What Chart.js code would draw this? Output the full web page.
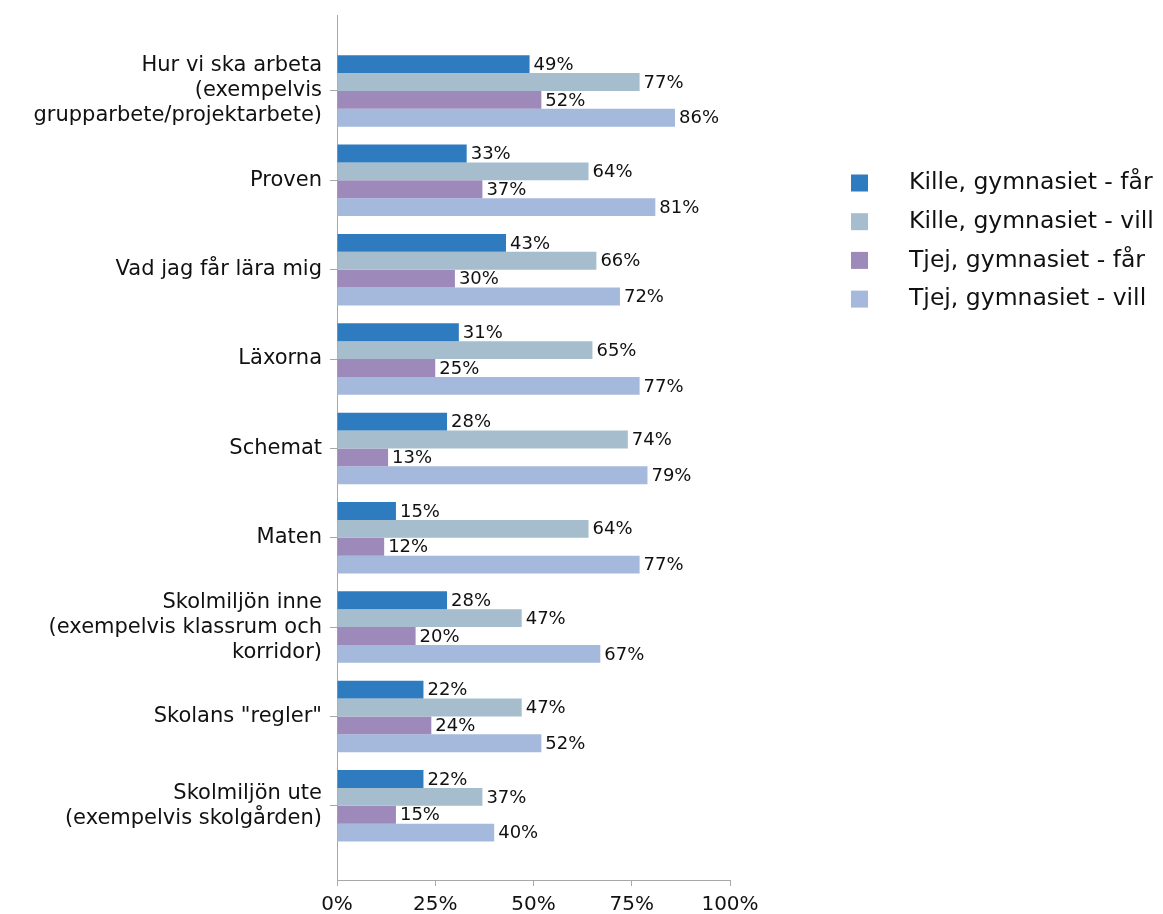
<!DOCTYPE html>
<html>
<head>
<meta charset="utf-8">
<script src="https://cdn.jsdelivr.net/npm/chart.js@4.4.1/dist/chart.umd.min.js"></script>
<style>
  html, body { margin: 0; padding: 0; background: #fff; }
  #wrap { width: 1163px; height: 914px; }
</style>
</head>
<body>
<div id="wrap"><canvas id="myChart"></canvas></div>
<script>
// data
const categories = [
  ['Hur vi ska arbeta', '(exempelvis', 'grupparbete/projektarbete)'],
  'Proven',
  'Vad jag får lära mig',
  'Läxorna',
  'Schemat',
  'Maten',
  ['Skolmiljön inne', '(exempelvis klassrum och', 'korridor)'],
  'Skolans "regler"',
  ['Skolmiljön ute', '(exempelvis skolgården)']
];
const seriesNames = ['Kille, gymnasiet - får', 'Kille, gymnasiet - vill', 'Tjej, gymnasiet - får', 'Tjej, gymnasiet - vill'];
const killeFar  = [49, 33, 43, 31, 28, 15, 28, 22, 22];
const killeVill = [77, 64, 66, 65, 74, 64, 47, 47, 37];
const tjejFar   = [52, 37, 30, 25, 13, 12, 20, 24, 15];
const tjejVill  = [86, 81, 72, 77, 79, 77, 67, 52, 40];
const xTicks = [0, 25, 50, 75, 100];

const colors = ['#2f7bc0', '#a5bdcd', '#9d89ba', '#a5b9dc'];
const FONT = '"DejaVu Sans", sans-serif';
const axisGrey = '#a8a8a8';

const series = [killeFar, killeVill, tjejFar, tjejVill];

// procent efter varje stapel
const valueLabels = {
  id: 'valueLabels',
  afterDatasetsDraw(chart) {
    const ctx = chart.ctx;
    ctx.save();
    ctx.font = '18px ' + FONT;
    ctx.fillStyle = '#111';
    ctx.textBaseline = 'middle';
    ctx.textAlign = 'left';
    chart.data.datasets.forEach((ds, i) => {
      chart.getDatasetMeta(i).data.forEach((bar, j) => {
        ctx.fillText(ds.data[j].x + '%', bar.x + 4, bar.y + 1);
      });
    });
    ctx.restore();
  }
};

// legenden till höger
const sideLegend = {
  id: 'sideLegend',
  afterDraw(chart) {
    const ctx = chart.ctx;
    ctx.save();
    ctx.font = '23.5px ' + FONT;
    ctx.textBaseline = 'middle';
    ctx.textAlign = 'left';
    chart.data.datasets.forEach((ds, i) => {
      const y = 183 + i * 38.7;
      ctx.fillStyle = ds.backgroundColor;
      ctx.fillRect(851, y - 8.5, 17, 17);
      ctx.fillStyle = '#111';
      ctx.fillText(ds.label, 909, y);
    });
    ctx.restore();
  }
};

const canvas = document.getElementById('myChart');
new Chart(canvas, {
  type: 'bar',
  data: {
    datasets: series.map((vals, i) => ({
      label: seriesNames[i],
      data: vals.map((v, j) => ({ x: v, y: j })),
      backgroundColor: colors[i],
      borderWidth: 0
    }))
  },
  options: {
    indexAxis: 'y',
    responsive: true,
    maintainAspectRatio: false,
    animation: false,
    categoryPercentage: 0.8,
    barPercentage: 1.0,
    layout: { padding: { top: 15, right: 433, left: 0, bottom: 0 } },
    plugins: {
      legend: { display: false },
      tooltip: { enabled: false }
    },
    scales: {
      x: {
        type: 'linear',
        min: 0,
        max: 100,
        afterBuildTicks: s => { s.ticks = xTicks.map(v => ({ value: v })); },
        afterFit: s => { s.height = 34; },
        ticks: {
          callback: v => v + '%',
          color: '#111',
          font: { family: FONT, size: 20 },
          padding: 7
        },
        grid: { drawOnChartArea: false, tickLength: 6, color: axisGrey },
        border: { color: axisGrey }
      },
      y: {
        type: 'linear',
        reverse: true,
        offset: false,
        min: -0.85,
        max: 8.83,
        afterBuildTicks: s => { s.ticks = categories.map((c, i) => ({ value: i })); },
        afterFit: s => { s.width = 337; s.paddingTop = 0; s.paddingBottom = 0; },
        ticks: {
          autoSkip: false,
          callback: v => categories[v],
          color: '#111',
          font: { family: FONT, size: 21, lineHeight: 1.19 },
          padding: 8
        },
        grid: { offset: false, drawOnChartArea: false, tickLength: 7, color: axisGrey },
        border: { color: axisGrey }
      }
    }
  },
  plugins: [valueLabels, sideLegend]
});
</script>
</body>
</html>
